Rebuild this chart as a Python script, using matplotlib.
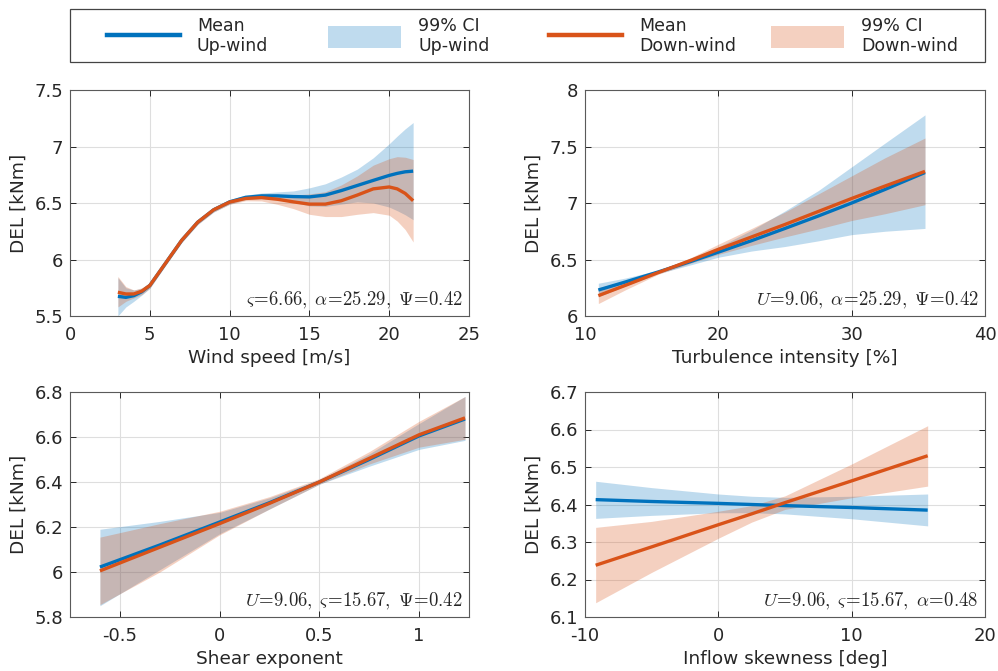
import matplotlib
matplotlib.use("Agg")
import matplotlib.pyplot as plt
from matplotlib.lines import Line2D
from matplotlib.patches import Patch, Rectangle

plt.rcParams['font.family'] = ['DejaVu Sans']
plt.rcParams['mathtext.fontset'] = 'cm'
plt.rcParams['axes.unicode_minus'] = False

# ---------------- data ----------------
# Panel 1: wind speed
ws_x = [3, 3.5, 4, 4.5, 5, 6, 7, 8, 9, 10, 11, 12, 13, 14, 15, 16, 17, 18, 19, 20, 20.5, 21, 21.5]
ws_up_mean = [5.674, 5.665, 5.68, 5.715, 5.77, 5.97, 6.17, 6.33, 6.44, 6.51, 6.55, 6.563, 6.563, 6.557, 6.554, 6.57, 6.61, 6.655, 6.70, 6.744, 6.762, 6.776, 6.782]
ws_up_lo = [5.50, 5.58, 5.63, 5.685, 5.745, 5.95, 6.15, 6.31, 6.42, 6.49, 6.53, 6.538, 6.528, 6.507, 6.474, 6.47, 6.49, 6.51, 6.50, 6.464, 6.432, 6.396, 6.352]
ws_up_hi = [5.84, 5.75, 5.73, 5.745, 5.795, 5.99, 6.19, 6.35, 6.46, 6.53, 6.57, 6.588, 6.598, 6.607, 6.634, 6.67, 6.73, 6.80, 6.90, 7.024, 7.092, 7.156, 7.212]
ws_dn_mean = [5.71, 5.695, 5.695, 5.72, 5.77, 5.97, 6.17, 6.33, 6.44, 6.508, 6.54, 6.548, 6.533, 6.51, 6.49, 6.49, 6.52, 6.57, 6.625, 6.642, 6.625, 6.585, 6.52]
ws_dn_lo = [5.58, 5.63, 5.66, 5.69, 5.745, 5.95, 6.15, 6.31, 6.42, 6.488, 6.52, 6.518, 6.488, 6.45, 6.40, 6.38, 6.38, 6.40, 6.415, 6.392, 6.34, 6.265, 6.155]
ws_dn_hi = [5.85, 5.76, 5.73, 5.75, 5.795, 5.99, 6.19, 6.35, 6.46, 6.528, 6.56, 6.578, 6.578, 6.57, 6.58, 6.60, 6.66, 6.74, 6.835, 6.892, 6.91, 6.905, 6.885]

# Panel 2: turbulence intensity
ti_x = [11, 13, 15.5, 18, 20, 22.5, 25, 27.5, 30, 32.5, 35.5]
ti_up_mean = [6.23, 6.30, 6.39, 6.485, 6.565, 6.667, 6.775, 6.885, 7.00, 7.12, 7.27]
ti_up_lo = [6.17, 6.265, 6.375, 6.455, 6.52, 6.575, 6.615, 6.665, 6.72, 6.75, 6.775]
ti_up_hi = [6.29, 6.335, 6.405, 6.515, 6.61, 6.76, 6.93, 7.11, 7.32, 7.53, 7.78]
ti_dn_mean = [6.18, 6.27, 6.385, 6.495, 6.59, 6.70, 6.81, 6.925, 7.04, 7.15, 7.28]
ti_dn_lo = [6.11, 6.23, 6.37, 6.47, 6.545, 6.625, 6.70, 6.77, 6.845, 6.905, 6.985]
ti_dn_hi = [6.25, 6.31, 6.40, 6.52, 6.635, 6.775, 6.92, 7.08, 7.24, 7.40, 7.575]

# Panel 3: shear exponent
sh_x = [-0.6, -0.3, 0, 0.25, 0.5, 0.75, 1.0, 1.23]
sh_up_mean = [6.022, 6.12, 6.222, 6.308, 6.40, 6.50, 6.605, 6.68]
sh_up_lo = [5.85, 6.01, 6.17, 6.28, 6.39, 6.47, 6.545, 6.585]
sh_up_hi = [6.19, 6.225, 6.265, 6.33, 6.41, 6.525, 6.66, 6.78]
sh_dn_mean = [6.005, 6.11, 6.215, 6.305, 6.40, 6.505, 6.61, 6.685]
sh_dn_lo = [5.855, 6.00, 6.165, 6.28, 6.39, 6.48, 6.555, 6.59]
sh_dn_hi = [6.155, 6.215, 6.27, 6.335, 6.415, 6.535, 6.67, 6.78]

# Panel 4: inflow skewness
sk_x = [-9.2, -5, 0, 2.5, 5, 10, 15.7]
sk_up_mean = [6.413, 6.408, 6.403, 6.400, 6.397, 6.392, 6.385]
sk_up_lo = [6.363, 6.371, 6.378, 6.378, 6.375, 6.362, 6.343]
sk_up_hi = [6.462, 6.445, 6.428, 6.422, 6.419, 6.422, 6.428]
sk_dn_mean = [6.238, 6.287, 6.346, 6.375, 6.405, 6.463, 6.530]
sk_dn_lo = [6.138, 6.219, 6.31, 6.353, 6.387, 6.418, 6.449]
sk_dn_hi = [6.339, 6.355, 6.382, 6.397, 6.423, 6.508, 6.61]

xlabels = ['Wind speed [m/s]', 'Turbulence intensity [%]', 'Shear exponent', 'Inflow skewness [deg]']
annotations = [r'$\varsigma\!=\!6.66,\;\alpha\!=\!25.29,\;\Psi\!=\!0.42$',
               r'$U\!=\!9.06,\;\alpha\!=\!25.29,\;\Psi\!=\!0.42$',
               r'$U\!=\!9.06,\;\varsigma\!=\!15.67,\;\Psi\!=\!0.42$',
               r'$U\!=\!9.06,\;\varsigma\!=\!15.67,\;\alpha\!=\!0.48$']
xlims = [(0, 25), (10, 40), (-0.75, 1.25), (-10, 20)]
ylims = [(5.5, 7.5), (6, 8), (5.8, 6.8), (6.1, 6.7)]
xticks = [[0, 5, 10, 15, 20, 25], [10, 20, 30, 40], [-0.5, 0, 0.5, 1], [-10, 0, 10, 20]]
xticklabels = [['0', '5', '10', '15', '20', '25'], ['10', '20', '30', '40'],
               ['-0.5', '0', '0.5', '1'], ['-10', '0', '10', '20']]
yticks = [[5.5, 6, 6.5, 7, 7.5], [6, 6.5, 7, 7.5, 8], [5.8, 6, 6.2, 6.4, 6.6, 6.8],
          [6.1, 6.2, 6.3, 6.4, 6.5, 6.6, 6.7]]
yticklabels = [['5.5', '6', '6.5', '7', '7.5'], ['6', '6.5', '7', '7.5', '8'],
               ['5.8', '6', '6.2', '6.4', '6.6', '6.8'],
               ['6.1', '6.2', '6.3', '6.4', '6.5', '6.6', '6.7']]
legend_labels = ['Mean\nUp-wind', '99% CI\nUp-wind', 'Mean\nDown-wind', '99% CI\nDown-wind']

panels = [
    (ws_x, ws_up_mean, ws_up_lo, ws_up_hi, ws_dn_mean, ws_dn_lo, ws_dn_hi),
    (ti_x, ti_up_mean, ti_up_lo, ti_up_hi, ti_dn_mean, ti_dn_lo, ti_dn_hi),
    (sh_x, sh_up_mean, sh_up_lo, sh_up_hi, sh_dn_mean, sh_dn_lo, sh_dn_hi),
    (sk_x, sk_up_mean, sk_up_lo, sk_up_hi, sk_dn_mean, sk_dn_lo, sk_dn_hi),
]

# ---------------- style ----------------
BLUE = '#0072BD'
ORANGE = '#D95319'
BLUE_ALPHA = 0.25
ORANGE_ALPHA = 0.27
TXT = '#262626'

W, H = 998, 671
fig = plt.figure(figsize=(W / 100, H / 100), dpi=100)

boxes = [(70, 90, 469, 316), (585, 90, 985, 316), (70, 392, 469, 617), (585, 392, 985, 617)]

for i, (box, data) in enumerate(zip(boxes, panels)):
    l, t, r, b = box
    ax = fig.add_axes([l / W, 1 - b / H, (r - l) / W, (b - t) / H])
    x, um, ul, uh, dm, dl, dh = data
    ax.fill_between(x, ul, uh, color=BLUE, alpha=BLUE_ALPHA, linewidth=0)
    ax.plot(x, um, color=BLUE, lw=2.4, solid_capstyle='butt')
    ax.fill_between(x, dl, dh, color=ORANGE, alpha=ORANGE_ALPHA, linewidth=0)
    ax.plot(x, dm, color=ORANGE, lw=2.4, solid_capstyle='butt')
    ax.set_xlim(*xlims[i])
    ax.set_ylim(*ylims[i])
    ax.set_xticks(xticks[i])
    ax.set_xticklabels(xticklabels[i])
    ax.set_yticks(yticks[i])
    ax.set_yticklabels(yticklabels[i])
    ax.grid(True, color='#dedede', lw=0.8)
    ax.set_axisbelow(True)
    ax.tick_params(axis='both', direction='in', top=True, right=True, length=4, width=0.7,
                   colors=TXT, labelsize=13)
    ax.tick_params(axis='x', pad=7)
    ax.tick_params(axis='y', pad=5)
    for sp in ax.spines.values():
        sp.set_color('#5a5a5a')
        sp.set_linewidth(0.8)
    ax.set_xlabel(xlabels[i], fontsize=13.3, color=TXT, labelpad=4)
    ax.set_ylabel('DEL [kNm]', fontsize=13.3, color=TXT, labelpad=5)
    ax.text(0.984, 0.022, annotations[i], transform=ax.transAxes, ha='right', va='bottom',
            fontsize=13.5, color=TXT)

# ---------------- legend (four equal-width MATLAB-style columns) ----------------
handles = [Line2D([], [], color=BLUE, lw=3.2),
           Patch(facecolor=BLUE, alpha=BLUE_ALPHA, edgecolor='none'),
           Line2D([], [], color=ORANGE, lw=3.2),
           Patch(facecolor=ORANGE, alpha=ORANGE_ALPHA, edgecolor='none')]
col_starts = [107, 328, 549, 771]
fs_leg = 12.5
fs_px = fs_leg * 100 / 72
for h, lab, x0 in zip(handles, legend_labels, col_starts):
    fig.legend([h], [lab], loc='center left', bbox_to_anchor=(x0 / W, 1 - 36 / H),
               frameon=False, borderpad=0, borderaxespad=0, fontsize=fs_leg,
               handlelength=73 / fs_px, handleheight=27 / fs_px, handletextpad=17 / fs_px,
               labelcolor=TXT)
fig.add_artist(Rectangle((70 / W, 1 - 62 / H), 915 / W, 53 / H, transform=fig.transFigure,
                         fill=False, edgecolor='#444444', lw=0.9))

fig.savefig('out.png', dpi=100)
